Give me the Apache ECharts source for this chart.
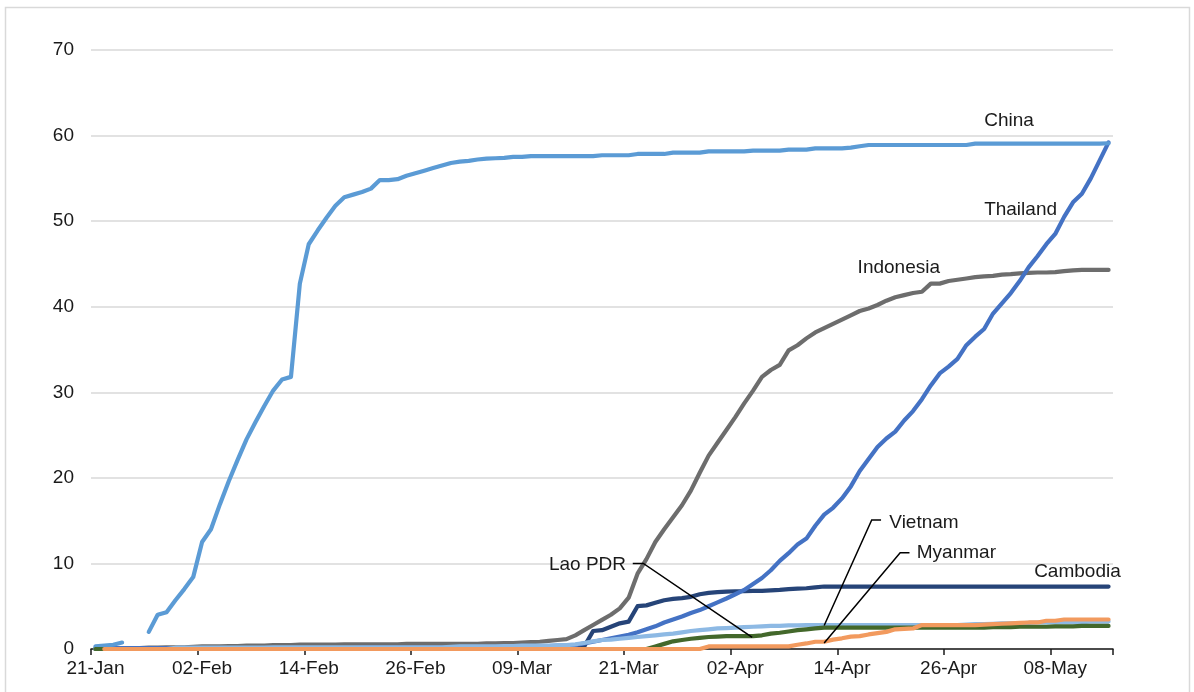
<!DOCTYPE html>
<html><head><meta charset="utf-8">
<script src="https://cdn.jsdelivr.net/npm/echarts@6/dist/echarts.min.js"></script>
<style>html,body{margin:0;padding:0;background:#fff}#chart{width:1194px;height:692px}</style>
</head><body><div id="chart"></div>
<script>
// ---- categories: daily dates 21-Jan-2020 .. 14-May-2020 ----
const firstDay = { year: 2020, month: 0, day: 21 };
const dayCount = 115;
const monthNames = ['Jan','Feb','Mar','Apr','May','Jun','Jul','Aug','Sep','Oct','Nov','Dec'];
const categories = [];
for (let i = 0; i < dayCount; i++) {
  const d = new Date(Date.UTC(firstDay.year, firstDay.month, firstDay.day + i));
  categories.push(String(d.getUTCDate()).padStart(2, '0') + '-' + monthNames[d.getUTCMonth()]);
}
const yTicks = [0, 10, 20, 30, 40, 50, 60, 70];

// ---- series values (one per day) ----
const china = [
  0.3, 0.4, 0.5, 0.75, null, null, 2.0, 4.0, 4.3, 5.7,
  7.0, 8.4, 12.5, 14.0, 16.9, 19.6, 22.1, 24.5, 26.5, 28.4,
  30.2, 31.5, 31.8, 42.7, 47.3, 48.9, 50.4, 51.8, 52.8, 53.1,
  53.4, 53.8, 54.8, 54.8, 54.9, 55.3, 55.6, 55.9, 56.2, 56.5,
  56.8, 56.95, 57.05, 57.2, 57.3, 57.35, 57.4, 57.5, 57.5, 57.6,
  57.6, 57.6, 57.6, 57.6, 57.6, 57.6, 57.6, 57.7, 57.7, 57.7,
  57.7, 57.85, 57.85, 57.85, 57.85, 58.0, 58.0, 58.0, 58.0, 58.15,
  58.15, 58.15, 58.15, 58.15, 58.25, 58.25, 58.25, 58.25, 58.35, 58.35,
  58.35, 58.5, 58.5, 58.5, 58.5, 58.6, 58.75, 58.9, 58.9, 58.9,
  58.9, 58.9, 58.9, 58.9, 58.9, 58.9, 58.9, 58.9, 58.9, 59.05,
  59.05, 59.05, 59.05, 59.05, 59.05, 59.05, 59.05, 59.05, 59.05, 59.05,
  59.05, 59.05, 59.05, 59.05, 59.1
];
const thailand = [
  0.1, 0.1, 0.1, 0.1, 0.1, 0.1, 0.1, 0.1, 0.1, 0.1,
  0.1, 0.1, 0.1, 0.1, 0.1, 0.1, 0.1, 0.1, 0.1, 0.1,
  0.1, 0.1, 0.1, 0.1, 0.1, 0.1, 0.1, 0.1, 0.1, 0.1,
  0.15, 0.15, 0.15, 0.15, 0.15, 0.15, 0.15, 0.15, 0.15, 0.15,
  0.2, 0.2, 0.2, 0.2, 0.2, 0.22, 0.24, 0.24, 0.25, 0.28,
  0.3, 0.33, 0.36, 0.4, 0.47, 0.65, 0.85, 1.05, 1.25, 1.45,
  1.65, 1.95, 2.3, 2.65, 3.1, 3.45, 3.8, 4.2, 4.55, 5.0,
  5.45, 5.9, 6.4, 6.9, 7.6, 8.3, 9.2, 10.3, 11.2, 12.2,
  12.9, 14.4, 15.7, 16.5, 17.6, 19.0, 20.8, 22.2, 23.6, 24.6,
  25.4, 26.7, 27.8, 29.2, 30.8, 32.2, 33.0, 33.9, 35.5, 36.5,
  37.4, 39.2, 40.4, 41.6, 43.0, 44.6, 45.9, 47.3, 48.5, 50.5,
  52.2, 53.2, 55.0, 57.1, 59.2
];
const indonesia = [
  0, 0.05, 0.05, 0.1, 0.1, 0.1, 0.15, 0.15, 0.2, 0.2,
  0.2, 0.25, 0.3, 0.3, 0.3, 0.35, 0.35, 0.4, 0.4, 0.4,
  0.45, 0.45, 0.45, 0.5, 0.5, 0.5, 0.5, 0.5, 0.55, 0.55,
  0.55, 0.55, 0.55, 0.55, 0.55, 0.6, 0.6, 0.6, 0.6, 0.6,
  0.6, 0.6, 0.6, 0.6, 0.65, 0.65, 0.7, 0.7, 0.75, 0.8,
  0.85, 0.95, 1.05, 1.15, 1.6, 2.2, 2.8, 3.4, 4.0, 4.75,
  6.0, 8.8, 10.5, 12.5, 14.0, 15.4, 16.8, 18.5, 20.6, 22.6,
  24.1, 25.6, 27.1, 28.7, 30.2, 31.8, 32.6, 33.2, 34.9, 35.5,
  36.3, 37.0, 37.5, 38.0, 38.5, 39.0, 39.5, 39.8, 40.2, 40.7,
  41.1, 41.35, 41.6, 41.75, 42.7, 42.7, 43.0, 43.15, 43.3, 43.45,
  43.55, 43.6, 43.75, 43.8, 43.9, 43.95, 44.0, 44.0, 44.05, 44.15,
  44.25, 44.3, 44.3, 44.3, 44.3
];
const cambodia = [
  0, 0, 0, 0, 0, 0, 0, 0, 0, 0,
  0, 0, 0, 0, 0, 0, 0, 0, 0, 0,
  0, 0, 0, 0, 0, 0, 0, 0, 0, 0,
  0, 0, 0, 0, 0, 0, 0, 0, 0, 0,
  0, 0, 0, 0, 0, 0, 0, 0, 0, 0,
  0, 0, 0, 0, 0, 0.3, 2.1, 2.2, 2.6, 3.0,
  3.2, 5.0, 5.1, 5.4, 5.7, 5.85, 5.95, 6.1, 6.4, 6.55,
  6.65, 6.7, 6.75, 6.75, 6.8, 6.8, 6.85, 6.9, 7.0, 7.05,
  7.1, 7.2, 7.3, 7.3, 7.3, 7.3, 7.3, 7.3, 7.3, 7.3,
  7.3, 7.3, 7.3, 7.3, 7.3, 7.3, 7.3, 7.3, 7.3, 7.3,
  7.3, 7.3, 7.3, 7.3, 7.3, 7.3, 7.3, 7.3, 7.3, 7.3,
  7.3, 7.3, 7.3, 7.3, 7.3
];
const vietnam = [
  0, 0, 0, 0, 0, 0, 0, 0, 0, 0.15,
  0.15, 0.15, 0.15, 0.15, 0.15, 0.15, 0.15, 0.15, 0.15, 0.15,
  0.2, 0.2, 0.2, 0.2, 0.2, 0.2, 0.2, 0.2, 0.2, 0.2,
  0.2, 0.2, 0.2, 0.2, 0.2, 0.2, 0.2, 0.2, 0.2, 0.2,
  0.25, 0.3, 0.3, 0.3, 0.3, 0.3, 0.35, 0.35, 0.4, 0.4,
  0.4, 0.4, 0.45, 0.45, 0.55, 0.7, 0.9, 1.05, 1.1, 1.2,
  1.3, 1.4, 1.5, 1.6, 1.7, 1.8, 1.95, 2.1, 2.2, 2.3,
  2.4, 2.45, 2.5, 2.55, 2.6, 2.65, 2.7, 2.7, 2.75, 2.75,
  2.8, 2.8, 2.8, 2.8, 2.8, 2.8, 2.8, 2.8, 2.8, 2.8,
  2.8, 2.8, 2.8, 2.8, 2.8, 2.8, 2.8, 2.8, 2.85, 2.9,
  2.9, 2.95, 3.0, 3.0, 3.0, 3.05, 3.1, 3.1, 3.1, 3.15,
  3.15, 3.15, 3.2, 3.2, 3.2
];
const laoPDR = [
  0, 0, 0, 0, 0, 0, 0, 0, 0, 0,
  0, 0, 0, 0, 0, 0, 0, 0, 0, 0,
  0, 0, 0, 0, 0, 0, 0, 0, 0, 0,
  0, 0, 0, 0, 0, 0, 0, 0, 0, 0,
  0, 0, 0, 0, 0, 0, 0, 0, 0, 0,
  0, 0, 0, 0, 0, 0, 0, 0, 0, 0,
  0, 0, 0, 0.3, 0.6, 0.9, 1.05, 1.2, 1.3, 1.4,
  1.45, 1.5, 1.5, 1.5, 1.5, 1.6, 1.8, 1.9, 2.05, 2.2,
  2.3, 2.4, 2.5, 2.5, 2.5, 2.5, 2.5, 2.5, 2.5, 2.5,
  2.5, 2.5, 2.5, 2.5, 2.5, 2.5, 2.5, 2.5, 2.5, 2.5,
  2.5, 2.55, 2.55, 2.55, 2.6, 2.6, 2.6, 2.6, 2.65, 2.65,
  2.65, 2.7, 2.7, 2.7, 2.7
];
const myanmar = [
  null, 0, 0, 0, 0, 0, 0, 0, 0, 0,
  0, 0, 0, 0, 0, 0, 0, 0, 0, 0,
  0, 0, 0, 0, 0, 0, 0, 0, 0, 0,
  0, 0, 0, 0, 0, 0, 0, 0, 0, 0,
  0, 0, 0, 0, 0, 0, 0, 0, 0, 0,
  0, 0, 0, 0, 0, 0, 0, 0, 0, 0,
  0, 0, 0, 0, 0, 0, 0, 0, 0, 0.3,
  0.3, 0.3, 0.3, 0.3, 0.3, 0.3, 0.3, 0.3, 0.3, 0.5,
  0.65, 0.85, 0.85, 1.1, 1.25, 1.45, 1.5, 1.7, 1.85, 2.0,
  2.3, 2.35, 2.4, 2.8, 2.8, 2.8, 2.8, 2.8, 2.8, 2.8,
  2.85, 2.9, 2.95, 3.0, 3.05, 3.1, 3.1, 3.3, 3.3, 3.45,
  3.45, 3.45, 3.45, 3.45, 3.45
];

// ---- direct labels (data coordinates: day index, value) ----
const labelNotes = [
  { text: 'China',     at: [102.8, 61.7], align: 'center' },
  { text: 'Thailand',  at: [104.1, 51.3], align: 'center' },
  { text: 'Indonesia', at: [90.4, 44.6],  align: 'center' },
  { text: 'Cambodia',  at: [110.5, 9.0],  align: 'center' },
  { text: 'Vietnam',   at: [89.33, 14.75], align: 'left' },
  { text: 'Myanmar',   at: [92.42, 11.2], align: 'left' },
  { text: 'Lao PDR',   at: [59.7, 9.8],   align: 'right' }
];
const leaderLines = [
  [[60.46, 10.0], [61.65, 10.0], [73.9, 1.35]],
  [[88.4, 15.07], [87.35, 15.07], [82.0, 2.75]],
  [[91.6, 11.25], [90.55, 11.25], [82.0, 0.7]]
];

const FONT = '"Liberation Sans", Arial, sans-serif';
const chart = echarts.init(document.getElementById('chart'), null, { renderer: 'canvas' });

function line(name, data, color, z) {
  return {
    name, type: 'line', data, symbol: 'none', connectNulls: false, z,
    lineStyle: { color, width: 4.2, cap: 'round', join: 'round' },
    emphasis: { disabled: true }
  };
}

chart.setOption({
  animation: false,
  backgroundColor: '#fff',
  grid: { left: 91, right: 81, top: 50, bottom: 43 },
  xAxis: {
    type: 'category', data: categories, boundaryGap: true,
    axisLine: { lineStyle: { color: '#1a1a1a', width: 1.5 } },
    axisTick: { show: true, interval: 11, length: 6, lineStyle: { color: '#1a1a1a', width: 1.5 } },
    axisLabel: { interval: 11, fontSize: 19, fontFamily: FONT, color: '#1a1a1a', margin: 10 },
    splitLine: { show: false }
  },
  yAxis: {
    type: 'value', min: yTicks[0], max: yTicks[yTicks.length - 1], interval: 10,
    axisLine: { show: false }, axisTick: { show: false },
    axisLabel: { fontSize: 19, fontFamily: FONT, color: '#1a1a1a', margin: 17 },
    splitLine: { lineStyle: { color: '#D9D9D9', width: 1.5 } }
  },
  series: [
    line('Indonesia', indonesia, '#6D6D6D', 2),
    line('Cambodia', cambodia, '#264478', 3),
    line('Thailand', thailand, '#4472C4', 4),
    line('China', china, '#5B9BD5', 5),
    line('Vietnam', vietnam, '#8DB9E4', 6),
    line('Lao PDR', laoPDR, '#43682B', 7),
    line('Myanmar', myanmar, '#F29A5E', 8)
  ]
});

function toPx(i, v) {
  const i0 = Math.min(Math.floor(i), dayCount - 2);
  const p0 = chart.convertToPixel({ gridIndex: 0 }, [i0, v]);
  const p1 = chart.convertToPixel({ gridIndex: 0 }, [i0 + 1, v]);
  return [p0[0] + (p1[0] - p0[0]) * (i - i0), p0[1]];
}

const graphics = [{
  type: 'rect', silent: true, z: -1,
  shape: { x: 5.5, y: 7.5, width: 1184, height: 700 },
  style: { fill: 'none', stroke: '#D9D9D9', lineWidth: 1.5 }
}];
labelNotes.forEach(n => {
  const p = toPx(n.at[0], n.at[1]);
  graphics.push({
    type: 'text', silent: true, z: 20, x: p[0], y: p[1],
    style: { text: n.text, fontSize: 19, fontFamily: FONT, fill: '#1a1a1a', align: n.align, verticalAlign: 'middle' }
  });
});
leaderLines.forEach(pts => {
  graphics.push({
    type: 'polyline', silent: true, z: 20,
    shape: { points: pts.map(q => toPx(q[0], q[1])) },
    style: { stroke: '#000', lineWidth: 1.5, fill: null }
  });
});
chart.setOption({ graphic: graphics });
</script></body></html>
